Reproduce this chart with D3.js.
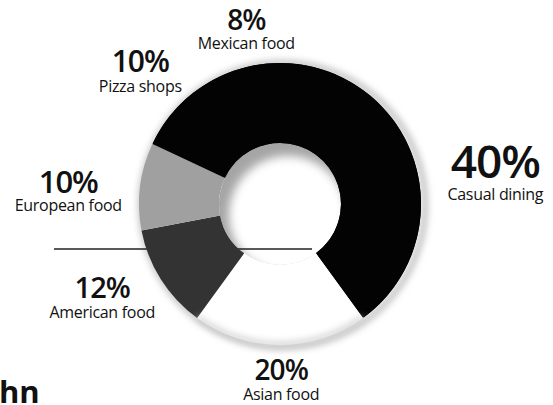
<!DOCTYPE html>
<html>
<head>
<meta charset="utf-8">
<script src="https://cdn.jsdelivr.net/npm/d3@7"></script>
<style>
  html, body { margin: 0; padding: 0; background: #fff; }
  svg { display: block; }
  text { font-family: "Open Sans", "DejaVu Sans", sans-serif; fill: #111; }
</style>
</head>
<body>
<svg id="chart" width="553" height="405"></svg>
<script>
// Share of restaurant visits by type
const categories = ["Casual dining", "Asian food", "American food", "European food", "Pizza shops", "Mexican food"];
const shares = [40, 20, 12, 10, 10, 8];
const pctLabels = ["40%", "20%", "12%", "10%", "10%", "8%"];
const sliceColors = ["#030303", "#ffffff", "#333333", "#a0a0a0", "#030303", "#030303"];

const W = 553, H = 405;
const cx = 280, cy = 204;
const outerR = 141, innerR = 61;

const svg = d3.select("#chart");
const defs = svg.append("defs");

defs.append("filter").attr("id", "soft")
  .attr("x", "-20%").attr("y", "-20%").attr("width", "140%").attr("height", "140%")
  .append("feGaussianBlur").attr("stdDeviation", 3);

defs.append("filter").attr("id", "softer")
  .attr("x", "-20%").attr("y", "-20%").attr("width", "140%").attr("height", "140%")
  .append("feGaussianBlur").attr("stdDeviation", 5);

defs.append("clipPath").attr("id", "hole")
  .append("circle").attr("cx", cx).attr("cy", cy).attr("r", innerR);

const pie = d3.pie().sort(null).startAngle(0).endAngle(2 * Math.PI);
const arcs = pie(shares);
const arc = d3.arc().innerRadius(innerR).outerRadius(outerR);

// soft grey halo around the ring, heavier toward the right
svg.append("circle")
  .attr("cx", cx + 3).attr("cy", cy + 1).attr("r", outerR + 1)
  .attr("fill", "none").attr("stroke", "#c8c8c8").attr("stroke-width", 7)
  .attr("filter", "url(#soft)");

// shaded centre hole (shadow on the upper left edge)
const hole = svg.append("g").attr("clip-path", "url(#hole)");
hole.append("rect")
  .attr("x", cx - innerR).attr("y", cy - innerR)
  .attr("width", innerR * 2).attr("height", innerR * 2)
  .attr("fill", "#a5a5a5");
hole.append("circle")
  .attr("cx", cx + 8).attr("cy", cy + 11).attr("r", innerR - 2)
  .attr("fill", "#fff").attr("filter", "url(#softer)");

// rule that runs behind the ring
svg.append("line")
  .attr("x1", 54).attr("x2", 312)
  .attr("y1", 249).attr("y2", 249)
  .attr("stroke", "#222").attr("stroke-width", 1.6);

const ring = svg.append("g").attr("transform", `translate(${cx},${cy})`);

// continuous black backing under the adjoining black slices (Pizza shops → Mexican food → Casual dining)
ring.append("path")
  .attr("d", arc({ startAngle: arcs[4].startAngle + 0.01, endAngle: arcs[0].endAngle + 2 * Math.PI - 0.01 }))
  .attr("fill", "#030303");

// ring slices
ring.selectAll("path.slice")
  .data(arcs)
  .join("path")
  .attr("class", "slice")
  .attr("d", arc)
  .attr("fill", (d, i) => sliceColors[i]);

// grey edge on the white slice
const edgeArc = d3.arc().innerRadius(outerR - 3).outerRadius(outerR + 1);
ring.append("path")
  .attr("d", edgeArc(arcs[1]))
  .attr("fill", "#c8c8c8")
  .attr("filter", "url(#soft)");

// labels: placed around the ring by angle (degrees clockwise from 12 o'clock) and distance
const labelPlacement = [
  { angle: 83, dist: 217, pctSize: 46, gap: 22 },
  { angle: 179.6, dist: 176, pctSize: 28, gap: 20 },
  { angle: 242.2, dist: 201, pctSize: 29, gap: 20 },
  { angle: 273, dist: 212, pctSize: 31, gap: 18 },
  { angle: 313.3, dist: 192, pctSize: 30, gap: 20 },
  { angle: 349, dist: 177, pctSize: 28, gap: 19 }
];

const labels = svg.append("g");
categories.forEach((name, i) => {
  const p = labelPlacement[i];
  const a = p.angle * Math.PI / 180;
  const x = cx + Math.sin(a) * p.dist;
  const y = cy - Math.cos(a) * p.dist;
  labels.append("text")
    .attr("x", x).attr("y", y)
    .attr("text-anchor", "middle")
    .attr("font-size", p.pctSize)
    .attr("font-weight", 600)
    .attr("letter-spacing", -1)
    .text(pctLabels[i]);
  labels.append("text")
    .attr("x", x).attr("y", y + p.gap)
    .attr("text-anchor", "middle")
    .attr("font-size", 16)
    .attr("letter-spacing", -0.3)
    .text(name);
});

// partial heading at the lower left edge
svg.append("text")
  .attr("x", -1).attr("y", 403)
  .attr("font-size", 31)
  .attr("font-weight", 700)
  .attr("font-family", "'DejaVu Sans', sans-serif")
  .text("hn");
</script>
</body>
</html>
